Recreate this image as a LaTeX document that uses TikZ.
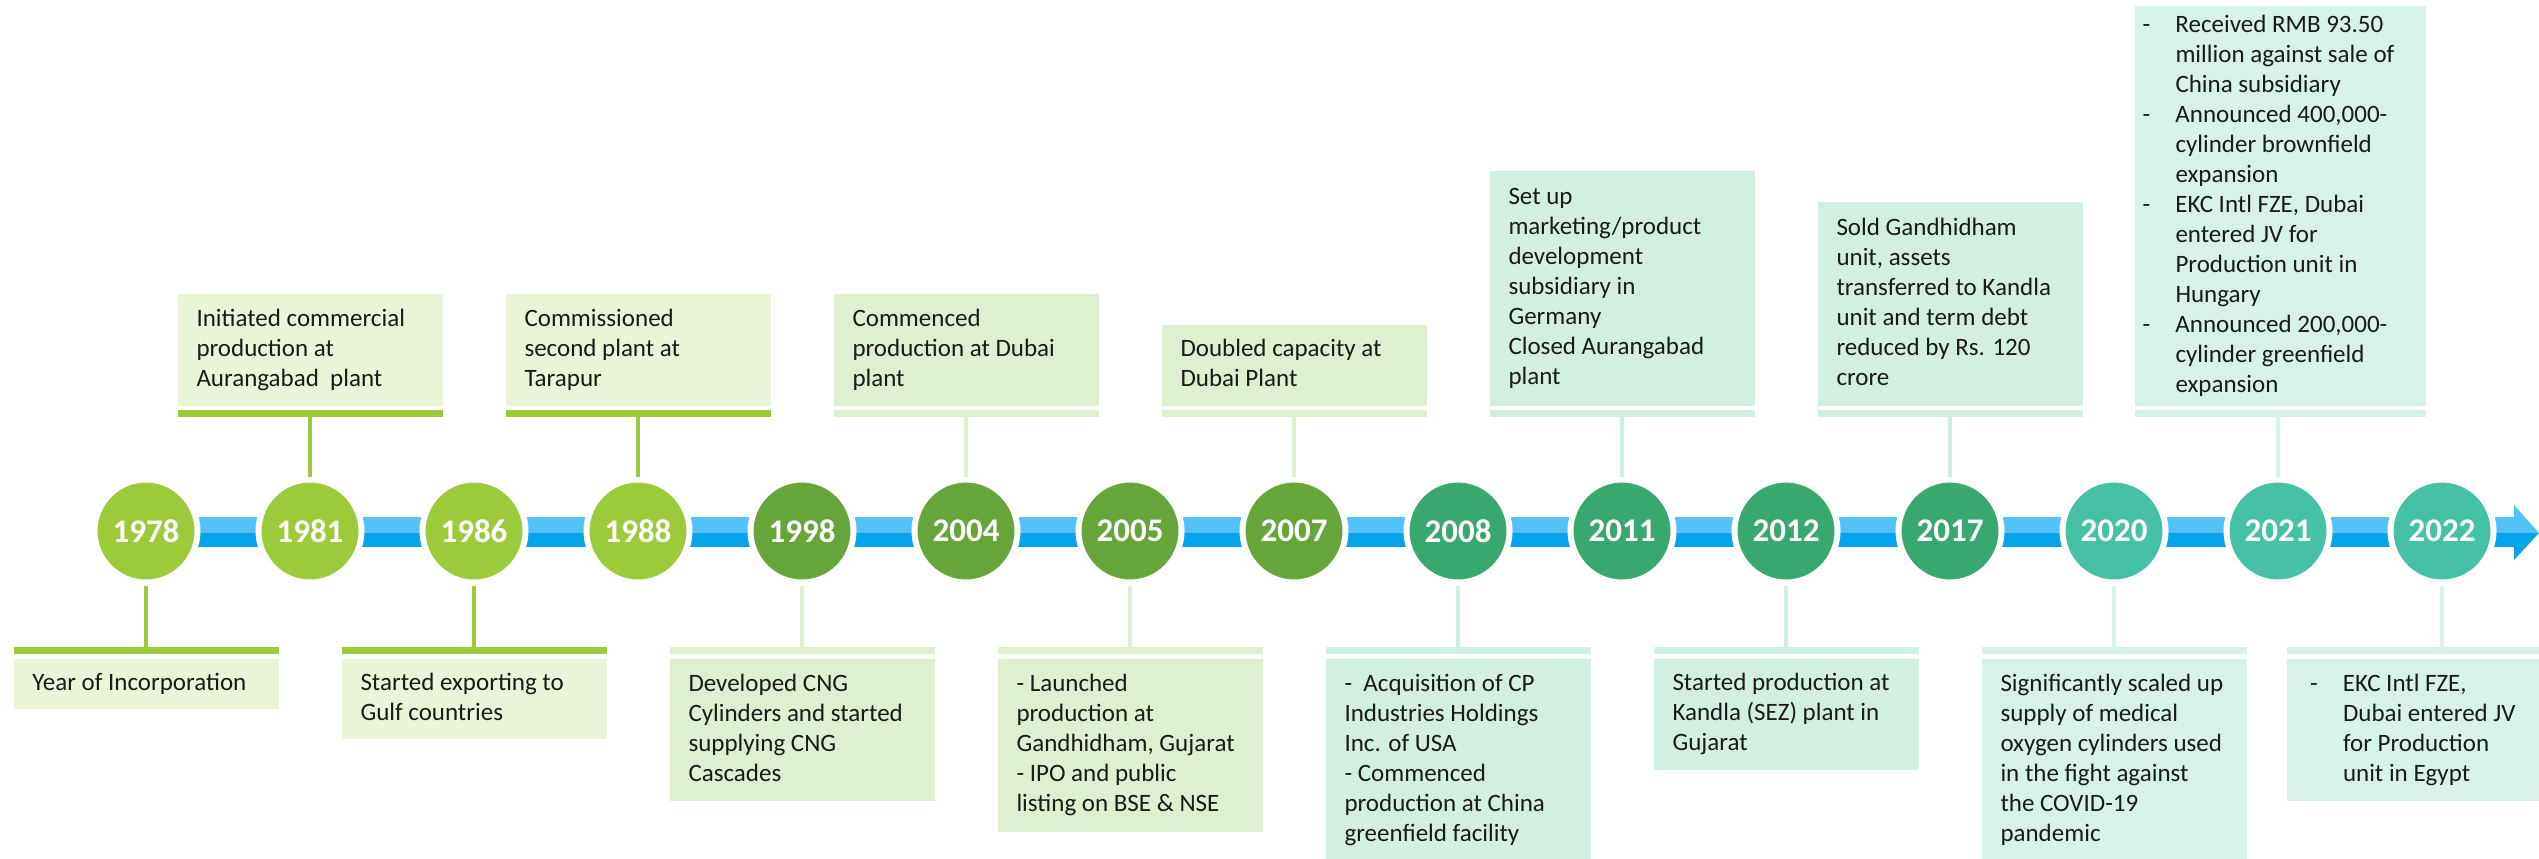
\documentclass[tikz,border=0pt]{standalone}
\usepackage{fontspec}
\setmainfont{Carlito}
\definecolor{gA}{HTML}{9BCB3B}
\definecolor{fA}{HTML}{EAF4D7}
\definecolor{gB}{HTML}{65A53A}
\definecolor{fB}{HTML}{DEF0D0}
\definecolor{gC}{HTML}{39A86F}
\definecolor{fC}{HTML}{D2F0E1}
\definecolor{gD}{HTML}{46C1A5}
\definecolor{fD}{HTML}{D7F2EB}
\definecolor{blueL}{HTML}{52C2F7}
\definecolor{blueD}{HTML}{09A3EA}
\definecolor{txt}{HTML}{1A1A1A}
\newcommand\btext[2]{\makebox[#1][l]{\begin{tabular}{@{}l@{}}#2\end{tabular}}}
\newcommand\dashitem{\makebox[16.5pt][l]{-}}
\newcommand\dashcont{\hspace*{16.5pt}}
\begin{document}
\begin{tikzpicture}[x=0.5pt,y=-0.5pt,
  yr/.style={circle, minimum size=51.5pt, inner sep=0pt, draw=white, line width=3pt,
    font=\fontsize{16.5pt}{18pt}\selectfont\bfseries, text=white},
  evbox/.style={rectangle, inner xsep=9.5pt, inner ysep=0pt, outer sep=0pt,
    font=\fontsize{12.5pt}{15pt}\selectfont, text=txt},
  evbar/.style={rectangle, minimum width=132.5pt, minimum height=3.5pt, inner sep=0pt, outer sep=0pt},
  conn/.style={line width=1.75pt}]
\useasboundingbox (0,0) rectangle (2539,858);
\fill[white] (0,0) rectangle (2539,858);
% timeline bar
\fill[blueL] (146,517) rectangle (2514,533);
\fill[blueD] (146,533) rectangle (2514,547);
\fill[blueL] (2514,505) -- (2539,533) -- (2514,533) -- cycle;
\fill[blueD] (2514,533) -- (2539,533) -- (2514,560) -- cycle;
% year circles
\node[yr, fill=gA] (y1978) at (146,531) {1978};
\node[yr, fill=gA] (y1981) at (310,531) {1981};
\node[yr, fill=gA] (y1986) at (474,531) {1986};
\node[yr, fill=gA] (y1988) at (638,531) {1988};
\node[yr, fill=gB] (y1998) at (802,531) {1998};
\node[yr, fill=gB] (y2004) at (966,531) {2004};
\node[yr, fill=gB] (y2005) at (1130,531) {2005};
\node[yr, fill=gB] (y2007) at (1294,531) {2007};
\node[yr, fill=gC] (y2008) at (1458,531) {2008};
\node[yr, fill=gC] (y2011) at (1622,531) {2011};
\node[yr, fill=gC] (y2012) at (1786,531) {2012};
\node[yr, fill=gC] (y2017) at (1950,531) {2017};
\node[yr, fill=gD] (y2020) at (2114,531) {2020};
\node[yr, fill=gD] (y2021) at (2278,531) {2021};
\node[yr, fill=gD] (y2022) at (2442,531) {2022};
% upper events
\node[evbox, fill=fA, minimum height=56pt, anchor=south] (b1981) at (310,406)
  {\btext{113.5pt}{Initiated commercial\\production at\\Aurangabad\ \ plant}};
\node[evbar, fill=gA] (k1981) at (310,413.5) {};
\node[evbox, fill=fA, minimum height=56pt, anchor=south] (b1988) at (638,406)
  {\btext{113.5pt}{Commissioned\\second plant at\\Tarapur}};
\node[evbar, fill=gA] (k1988) at (638,413.5) {};
\node[evbox, fill=fB, minimum height=56pt, anchor=south] (b2004) at (966,406)
  {\btext{113.5pt}{Commenced\\production at Dubai\\plant}};
\node[evbar, fill=fB] (k2004) at (966,413.5) {};
\node[evbox, fill=fB, minimum height=40.5pt, anchor=south] (b2007) at (1294,406)
  {\btext{113.5pt}{Doubled capacity at\\Dubai Plant}};
\node[evbar, fill=fB] (k2007) at (1294,413.5) {};
\node[evbox, fill=fC, minimum height=117.5pt, anchor=south] (b2011) at (1622,406)
  {\btext{113.5pt}{Set up\\marketing/product\\development\\subsidiary in\\Germany\\Closed Aurangabad\\plant}};
\node[evbar, fill=fC] (k2011) at (1622,413.5) {};
\node[evbox, fill=fC, minimum height=102pt, anchor=south] (b2017) at (1950,406)
  {\btext{113.5pt}{Sold Gandhidham\\unit, assets\\transferred to Kandla\\unit and term debt\\reduced by Rs. 120\\crore}};
\node[evbar, fill=fC] (k2017) at (1950,413.5) {};
\node[evbox, fill=fD, inner xsep=4pt, minimum height=200pt, anchor=south] (b2021) at (2280,406)
  {\btext{137.5pt}{\dashitem Received RMB 93.50\\\dashcont million against sale of\\\dashcont China subsidiary\\
  \dashitem Announced 400,000-\\\dashcont cylinder brownfield\\\dashcont expansion\\
  \dashitem EKC Intl FZE, Dubai\\\dashcont entered JV for\\\dashcont Production unit in\\\dashcont Hungary\\
  \dashitem Announced 200,000-\\\dashcont cylinder greenfield\\\dashcont expansion}};
\node[evbar, fill=fD, minimum width=145.5pt] (k2021) at (2280,413.5) {};
% lower events
\node[evbox, fill=fA, minimum height=25pt, anchor=north] (b1978) at (146,659)
  {\btext{113.5pt}{Year of Incorporation}};
\node[evbar, fill=gA] (k1978) at (146,650.5) {};
\node[evbox, fill=fA, minimum height=40pt, anchor=north] (b1986) at (474,659)
  {\btext{113.5pt}{Started exporting to\\Gulf countries}};
\node[evbar, fill=gA] (k1986) at (474,650.5) {};
\node[evbox, fill=fB, minimum height=71pt, anchor=north] (b1998) at (802,659)
  {\btext{113.5pt}{Developed CNG\\Cylinders and started\\supplying CNG\\Cascades}};
\node[evbar, fill=fB] (k1998) at (802,650.5) {};
\node[evbox, fill=fB, minimum height=86.5pt, anchor=north] (b2005) at (1130,659)
  {\btext{113.5pt}{- Launched\\production at\\Gandhidham, Gujarat\\- IPO and public\\listing on BSE \& NSE}};
\node[evbar, fill=fB] (k2005) at (1130,650.5) {};
\node[evbox, fill=fC, minimum height=101pt, anchor=north] (b2008) at (1458,659)
  {\btext{113.5pt}{-\ \ Acquisition of CP\\Industries Holdings\\Inc. of USA\\- Commenced\\production at China\\greenfield facility}};
\node[evbar, fill=fC] (k2008) at (1458,650.5) {};
\node[evbox, fill=fC, minimum height=55.5pt, anchor=north] (b2012) at (1786,659)
  {\btext{113.5pt}{Started production at\\Kandla (SEZ) plant in\\Gujarat}};
\node[evbar, fill=fC] (k2012) at (1786,650.5) {};
\node[evbox, fill=fD, minimum height=101pt, anchor=north] (b2020) at (2114,659)
  {\btext{113.5pt}{Significantly scaled up\\supply of medical\\oxygen cylinders used\\in the fight against\\the COVID-19\\pandemic}};
\node[evbar, fill=fD] (k2020) at (2114,650.5) {};
\node[evbox, fill=fD, inner xsep=11.5pt, minimum height=71pt, anchor=north] (b2022) at (2419.5,659)
  {\btext{109.5pt}{\dashitem EKC Intl FZE,\\\dashcont Dubai entered JV\\\dashcont for Production\\\dashcont unit in Egypt}};
\node[evbar, fill=fD] (k2022) at (2419.5,650.5) {};
% connectors
\draw[conn, gA] (k1981.south -| y1981) -- (y1981.north);
\draw[conn, gA] (k1988.south -| y1988) -- (y1988.north);
\draw[conn, fB] (k2004.south -| y2004) -- (y2004.north);
\draw[conn, fB] (k2007.south -| y2007) -- (y2007.north);
\draw[conn, fC] (k2011.south -| y2011) -- (y2011.north);
\draw[conn, fC] (k2017.south -| y2017) -- (y2017.north);
\draw[conn, fD] (k2021.south -| y2021) -- (y2021.north);
\draw[conn, gA] (y1978.south) -- (y1978.south |- k1978.north);
\draw[conn, gA] (y1986.south) -- (y1986.south |- k1986.north);
\draw[conn, fB] (y1998.south) -- (y1998.south |- k1998.north);
\draw[conn, fB] (y2005.south) -- (y2005.south |- k2005.north);
\draw[conn, fC] (y2008.south) -- (y2008.south |- k2008.north);
\draw[conn, fC] (y2012.south) -- (y2012.south |- k2012.north);
\draw[conn, fD] (y2020.south) -- (y2020.south |- k2020.north);
\draw[conn, fD] (y2022.south) -- (y2022.south |- k2022.north);
\end{tikzpicture}
\end{document}
